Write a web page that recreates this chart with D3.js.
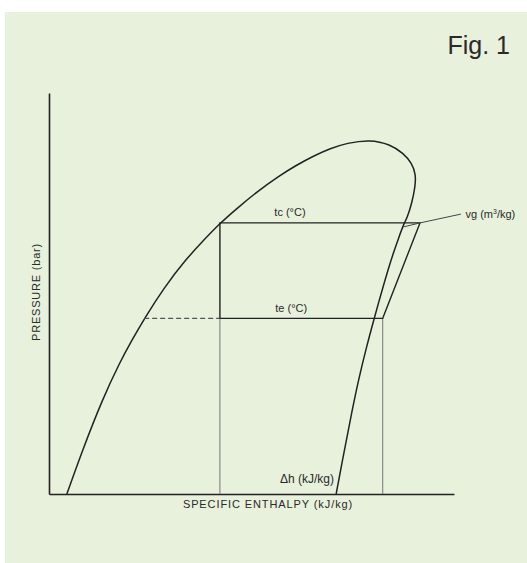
<!DOCTYPE html>
<html>
<head>
<meta charset="utf-8">
<script src="https://cdn.jsdelivr.net/npm/d3@7"></script>
<style>
  html, body { margin: 0; padding: 0; background: #fff; }
  svg { display: block; font-family: "Liberation Sans", Arial, sans-serif; }
</style>
</head>
<body>
<div id="container"></div>
<script>
// saturation dome, [enthalpy, pressure] in schematic units (0-100)
const dome = [
  [4.4, 0], [8.3, 11.0], [13.1, 23.4], [17.5, 32.9], [20.5, 38.4], [23.5, 43.7],
  [28.5, 51.6], [33.7, 58.4], [38.2, 63.3], [42.3, 67.6], [46.5, 71.3], [51.4, 75.4],
  [56.6, 79.2], [61.1, 82.0], [65.3, 84.3], [69.5, 86.2], [73.5, 87.5], [79.3, 88.4],
  [84.2, 87.2], [87.5, 85.0], [89.6, 82.5], [90.6, 79.6], [90.4, 76.6], [89.6, 72.5],
  [88.4, 68.8], [87.7, 67.6], [86.3, 63.8], [85.0, 60.0], [83.7, 55.9], [82.5, 51.7],
  [81.4, 47.8], [80.3, 43.8], [78.4, 36.7], [76.4, 28.4], [74.7, 20.1], [73.1, 11.8],
  [70.9, 0]
];

// cycle levels
const tc = 67.6;       // condensing pressure
const te = 43.8;       // evaporating pressure
const hLiquid = 42.2;  // liquid line / expansion
const hFlash = 23.5;   // liquid at te (dashed)
const hSuction = 82.4;
const hDischarge = 91.6;
const vgLeader = [[87.5, 66.6], [91.6, 67.6], [101.7, 69.8]];

const labels = ['tc (°C)', 'te (°C)', 'Δh (kJ/kg)'];

const width = 527;
const height = 563;

const svg = d3.select('#container').append('svg')
  .attr('width', width).attr('height', height);

// green panel
svg.append('rect')
  .attr('x', 5).attr('y', 12)
  .attr('width', width - 5).attr('height', height - 12)
  .attr('fill', '#e8f1dc');

const x = d3.scaleLinear().domain([0, 100]).range([49, 454]);
const y = d3.scaleLinear().domain([0, 100]).range([494, 93]);

const ink = '#222';

// axes, no ticks
svg.append('g')
  .attr('transform', 'translate(0,' + y(0) + ')')
  .call(d3.axisBottom(x).tickValues([]).tickSizeOuter(0))
  .select('.domain').attr('stroke', ink).attr('stroke-width', 1.6);

svg.append('g')
  .attr('transform', 'translate(' + x(0) + ',0)')
  .call(d3.axisLeft(y).tickValues([]).tickSizeOuter(0))
  .select('.domain').attr('stroke', ink).attr('stroke-width', 1.6);

const line = d3.line()
  .x(function(d) { return x(d[0]); })
  .y(function(d) { return y(d[1]); });

// dome
svg.append('path')
  .datum(dome)
  .attr('d', line.curve(d3.curveBasis))
  .attr('fill', 'none')
  .attr('stroke', ink)
  .attr('stroke-width', 1.5);

line.curve(d3.curveLinear);

// thin drop lines to the axis
svg.selectAll('.drop')
  .data([hLiquid, hSuction])
  .enter().append('line')
  .attr('class', 'drop')
  .attr('x1', function(d) { return x(d); })
  .attr('x2', function(d) { return x(d); })
  .attr('y1', y(te))
  .attr('y2', y(0))
  .attr('stroke', '#777')
  .attr('stroke-width', 1);

// dashed flash line
svg.append('line')
  .attr('x1', x(hFlash)).attr('x2', x(hLiquid))
  .attr('y1', y(te)).attr('y2', y(te))
  .attr('stroke', '#555')
  .attr('stroke-width', 1.1)
  .attr('stroke-dasharray', '5,3');

// the cycle
const cycle = [[hLiquid, te], [hLiquid, tc], [hDischarge, tc], [hSuction, te], [hLiquid, te]];
svg.append('path')
  .datum(cycle)
  .attr('d', line)
  .attr('fill', 'none')
  .attr('stroke', ink)
  .attr('stroke-width', 1.4);

// vg leader
svg.append('path')
  .datum(vgLeader)
  .attr('d', line)
  .attr('fill', 'none')
  .attr('stroke', '#444')
  .attr('stroke-width', 1);

// labels
const txt = '#2a2a2a';

svg.append('text')
  .attr('x', x(59.5)).attr('y', 216)
  .attr('text-anchor', 'middle')
  .attr('font-size', 11).attr('fill', txt)
  .text(labels[0]);

svg.append('text')
  .attr('x', x(59.8)).attr('y', 312)
  .attr('text-anchor', 'middle')
  .attr('font-size', 11).attr('fill', txt)
  .text(labels[1]);

svg.append('text')
  .attr('x', 334).attr('y', 483)
  .attr('text-anchor', 'end')
  .attr('font-size', 12).attr('fill', txt)
  .text(labels[2]);

const vg = svg.append('text')
  .attr('x', 465.5).attr('y', 217.5)
  .attr('font-size', 11).attr('fill', txt);
vg.append('tspan').text('vg (m');
vg.append('tspan').attr('font-size', 7).attr('dy', -4).text('3');
vg.append('tspan').attr('dy', 4).text('/kg)');

svg.append('text')
  .attr('x', 268).attr('y', 508)
  .attr('text-anchor', 'middle')
  .attr('font-size', 11).attr('letter-spacing', 0.9).attr('fill', txt)
  .text('SPECIFIC ENTHALPY  (kJ/kg)');

svg.append('text')
  .attr('transform', 'translate(40,292) rotate(-90)')
  .attr('text-anchor', 'middle')
  .attr('font-size', 11).attr('letter-spacing', 0.8).attr('fill', txt)
  .text('PRESSURE  (bar)');

svg.append('text')
  .attr('x', 510).attr('y', 54)
  .attr('text-anchor', 'end')
  .attr('font-size', 25).attr('fill', txt)
  .text('Fig. 1');
</script>
</body>
</html>
